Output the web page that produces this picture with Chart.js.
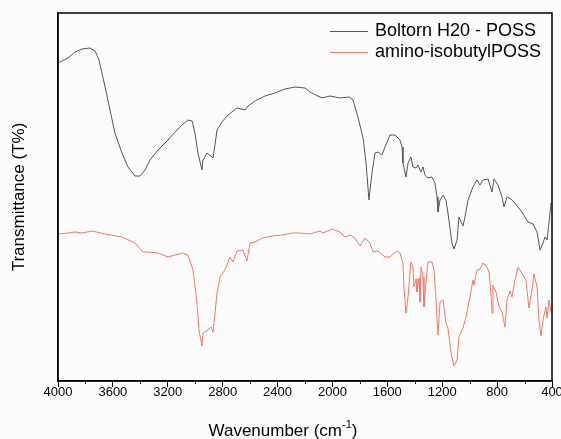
<!DOCTYPE html>
<html>
<head>
<meta charset="utf-8">
<script src="https://cdn.jsdelivr.net/npm/chart.js@4.4.0/dist/chart.umd.min.js"></script>
<style>
  html, body { margin: 0; padding: 0; background: #fcfcfc; }
  canvas { display: block; }
</style>
</head>
<body>
<canvas id="ftir" width="561" height="439"></canvas>
<script>
// wavenumber (cm-1) and transmittance (arbitrary units)
const boltornWn = [4000, 3927, 3876, 3825, 3767, 3730, 3701, 3657, 3621, 3585, 3534, 3490, 3439, 3402, 3366, 3330, 3271, 3198, 3147, 3096, 3053, 3023, 3002, 2980, 2951, 2943, 2914, 2878, 2870, 2841, 2805, 2761, 2696, 2637, 2615, 2564, 2492, 2419, 2346, 2273, 2200, 2164, 2076, 2018, 1945, 1879, 1850, 1814, 1777, 1755, 1734, 1712, 1690, 1668, 1639, 1617, 1581, 1544, 1508, 1493, 1486, 1464, 1449, 1428, 1413, 1391, 1377, 1355, 1340, 1326, 1304, 1275, 1253, 1238, 1231, 1216, 1194, 1173, 1158, 1129, 1114, 1092, 1078, 1049, 1034, 1012, 976, 947, 925, 903, 866, 837, 823, 794, 764, 750, 728, 699, 670, 619, 575, 538, 509, 487, 466, 451, 436, 422, 407];
const boltornT = [318, 323, 329, 332, 333, 330, 321, 294, 271, 248, 228, 214, 205, 205, 211, 221, 231, 241, 249, 256, 261, 260, 248, 228, 211, 221, 228, 224, 223, 251, 259, 266, 273, 271, 275, 280, 285, 288, 292, 294, 293, 289, 283, 285, 283, 284, 281, 264, 243, 218, 181, 208, 228, 229, 226, 234, 246, 246, 241, 234, 218, 204, 218, 224, 214, 213, 216, 209, 214, 206, 203, 204, 198, 184, 169, 181, 186, 181, 168, 138, 132, 141, 164, 155, 164, 181, 194, 201, 196, 201, 202, 189, 202, 196, 184, 174, 184, 182, 178, 169, 159, 157, 149, 131, 138, 144, 141, 158, 178];

const aminoWn = [4000, 3927, 3876, 3825, 3752, 3657, 3534, 3439, 3381, 3344, 3271, 3198, 3147, 3089, 3053, 3016, 2987, 2973, 2951, 2943, 2907, 2885, 2870, 2841, 2819, 2783, 2747, 2725, 2696, 2652, 2623, 2601, 2564, 2513, 2440, 2368, 2295, 2236, 2164, 2091, 2069, 2003, 1945, 1909, 1872, 1836, 1799, 1763, 1726, 1704, 1668, 1617, 1581, 1530, 1508, 1486, 1479, 1464, 1449, 1428, 1413, 1406, 1391, 1384, 1369, 1362, 1355, 1340, 1333, 1318, 1304, 1275, 1260, 1245, 1231, 1216, 1194, 1173, 1158, 1136, 1114, 1092, 1078, 1049, 1027, 998, 976, 969, 947, 925, 903, 874, 859, 845, 837, 830, 808, 786, 764, 743, 728, 706, 692, 670, 648, 611, 590, 568, 546, 531, 509, 495, 480, 466, 444, 436, 422, 407];
const aminoT = [147, 148, 149, 148, 150, 147, 144, 138, 129, 129, 128, 124, 126, 128, 126, 111, 78, 51, 35, 48, 51, 54, 49, 88, 104, 111, 124, 119, 130, 131, 120, 138, 139, 143, 145, 146, 148, 148, 147, 150, 148, 152, 149, 144, 146, 143, 135, 143, 138, 129, 130, 124, 124, 130, 128, 118, 94, 68, 84, 119, 114, 94, 102, 89, 103, 79, 114, 104, 74, 99, 119, 119, 111, 81, 46, 79, 81, 58, 53, 28, 15, 21, 44, 53, 64, 84, 101, 96, 111, 112, 118, 114, 109, 88, 68, 96, 89, 74, 69, 54, 81, 90, 84, 101, 114, 106, 101, 73, 91, 107, 94, 61, 45, 61, 74, 63, 81, 69];

const seriesLabels = ["Boltorn H20 - POSS", "amino-isobutylPOSS"];
const xTicks = [4000, 3600, 3200, 2800, 2400, 2000, 1600, 1200, 800, 400];
const minorTicks = [3800, 3400, 3000, 2600, 2200, 1800, 1400, 1000, 600];

const FONT = '"Liberation Sans", Arial, sans-serif';

const toPoints = (xs, ys) => xs.map((x, i) => ({ x: x, y: ys[i] }));

// box round the plot, minor ticks, legend and the x title with superscript
const framePlugin = {
  id: "frame",
  afterDraw(chart) {
    const { ctx, chartArea: a } = chart;
    const xs = chart.scales.x;
    ctx.save();
    ctx.strokeStyle = "#000";
    ctx.lineWidth = 1.5;
    ctx.strokeRect(a.left, a.top, a.right - a.left, a.bottom - a.top);

    ctx.lineWidth = 1;
    minorTicks.forEach((v) => {
      const px = Math.round(xs.getPixelForValue(v)) + 0.5;
      ctx.beginPath();
      ctx.moveTo(px, a.bottom);
      ctx.lineTo(px, a.bottom + 3);
      ctx.stroke();
    });

    // legend
    ctx.font = "18px " + FONT;
    ctx.textBaseline = "middle";
    ctx.textAlign = "left";
    chart.data.datasets.forEach((ds, i) => {
      const y = 31.5 + i * 21;
      ctx.strokeStyle = ds.borderColor;
      ctx.beginPath();
      ctx.moveTo(330, y);
      ctx.lineTo(368, y);
      ctx.stroke();
      ctx.fillStyle = "#000";
      ctx.fillText(ds.label, 375, y);
    });

    // x axis title
    const main = "Wavenumber (cm";
    const sup = "-1";
    const tail = ")";
    ctx.textBaseline = "alphabetic";
    ctx.font = "17px " + FONT;
    const w1 = ctx.measureText(main).width;
    const w3 = ctx.measureText(tail).width;
    ctx.font = "11px " + FONT;
    const w2 = ctx.measureText(sup).width;
    let x = 283 - (w1 + w2 + w3) / 2;
    const base = 436;
    ctx.font = "17px " + FONT;
    ctx.fillText(main, x, base);
    x += w1;
    ctx.font = "11px " + FONT;
    ctx.fillText(sup, x, base - 8);
    x += w2;
    ctx.font = "17px " + FONT;
    ctx.fillText(tail, x, base);
    ctx.restore();
  },
};

new Chart(document.getElementById("ftir"), {
  type: "line",
  data: {
    datasets: [
      {
        label: seriesLabels[0],
        data: toPoints(boltornWn, boltornT),
        borderColor: "#555555",
        borderWidth: 1,
        pointRadius: 0,
        tension: 0,
      },
      {
        label: seriesLabels[1],
        data: toPoints(aminoWn, aminoT),
        borderColor: "rgb(250,120,100)",
        borderWidth: 1,
        pointRadius: 0,
        tension: 0,
      },
    ],
  },
  options: {
    responsive: false,
    animation: false,
    layout: { padding: { top: 13, right: 9, left: 0, bottom: 0 } },
    plugins: {
      legend: { display: false },
      tooltip: { enabled: false },
    },
    scales: {
      x: {
        type: "linear",
        reverse: true,
        min: 400,
        max: 4000,
        afterFit: (s) => {
          s.height = 58;
          s.paddingLeft = 0;
          s.paddingRight = 0;
        },
        afterBuildTicks: (s) => { s.ticks = xTicks.map((v) => ({ value: v })); },
        ticks: {
          color: "#000",
          font: { family: FONT, size: 13 },
          padding: -2,
          maxRotation: 0,
          autoSkip: false,
          callback: (v) => String(v),
        },
        grid: {
          drawOnChartArea: false,
          drawTicks: true,
          tickLength: 6,
          tickColor: "#000",
          tickWidth: 1,
        },
        border: { color: "#000", width: 1.5 },
      },
      y: {
        min: 0,
        max: 368,
        afterFit: (s) => { s.width = 58; },
        ticks: { display: false },
        grid: { display: false },
        border: { color: "#000", width: 1.5 },
        title: {
          display: true,
          text: "Transmittance (T%)",
          color: "#000",
          font: { family: FONT, size: 17 },
          padding: { top: 9, bottom: 0 },
        },
      },
    },
  },
  plugins: [framePlugin],
});
</script>
</body>
</html>
